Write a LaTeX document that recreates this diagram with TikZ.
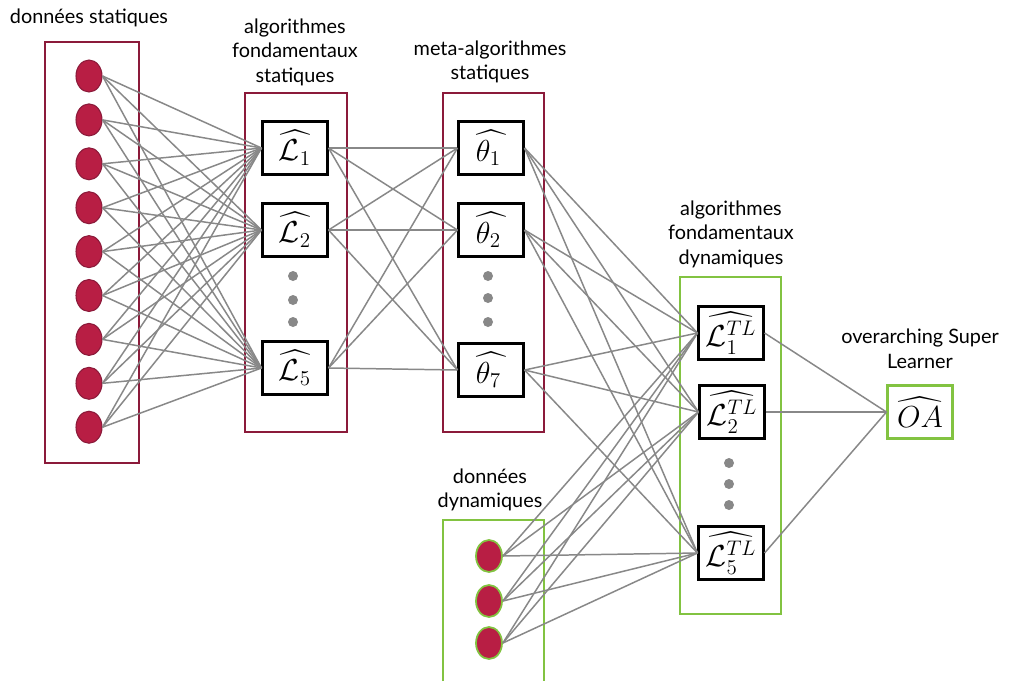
\documentclass[tikz,border=0pt]{standalone}
\usepackage{fontspec}
\setmainfont{Lato}
\usepackage{amsmath,amssymb}
\usetikzlibrary{positioning, shapes.geometric}
\definecolor{crimson}{RGB}{139,26,58}
\definecolor{berry}{RGB}{184,30,68}
\definecolor{leaf}{RGB}{130,195,65}
\definecolor{linegray}{RGB}{136,136,136}

\begin{document}
\begin{tikzpicture}[x=0.02cm, y=-0.02cm]
    \tikzstyle{every node}=[font=\fontsize{11.3}{14}\selectfont]
    \tikzstyle{unit}=[draw, line width=1.2pt, fill=white, minimum width=1.3cm, minimum height=1.06cm, inner sep=0pt, font=\fontsize{17}{20}\selectfont]
    \tikzstyle{datum}=[ellipse, draw=crimson, fill=berry, line width=0.6pt, minimum width=0.52cm, minimum height=0.64cm, inner sep=0pt]
    \tikzstyle{redframe}=[draw=crimson, line width=1.2pt]
    \tikzstyle{greenframe}=[draw=leaf, line width=1.2pt]
    \tikzstyle{wire}=[draw=linegray, line width=0.85pt]
    \tikzstyle{gap}=[circle, fill=linegray, inner sep=0pt, minimum size=0.2cm]
    \useasboundingbox (0,0) rectangle (1014,681);

    % frames
    \draw[redframe] (45,42) rectangle (139,463);
    \draw[redframe] (245,93) rectangle (347,432);
    \draw[redframe] (443,93) rectangle (544,432);
    \draw[greenframe] (680,277) rectangle (781,614);
    \draw[greenframe] (443,681) -- (443,520) -- (544,520) -- (544,681);

    % titles
    \node (title stat)  at (89,18)  {données statiques};
    \node (title L)     at (295,52) [align=center] {algorithmes\\fondamentaux\\statiques};
    \node (title th)    at (490,62) [align=center] {meta-algorithmes\\statiques};
    \node (title TL)    at (731,234) [align=center] {algorithmes\\fondamentaux\\dynamiques};
    \node (title OA)    at (920,349) [align=center] {overarching Super\\Learner};
    \node (title dyn)   at (490,490) [align=center] {données\\dynamiques};

    % static data
    \foreach \i in {1,...,9}
        \node (stat \i) [datum] at (89,{76+43.9*(\i-1)}) {};

    % dynamic data
    \node (dyn 1) [datum, draw=leaf, line width=1pt] at (489,556) {};
    \node (dyn 2) [datum, draw=leaf, line width=1pt] at (489,601) {};
    \node (dyn 3) [datum, draw=leaf, line width=1pt] at (489,643) {};

    % learners
    \node (L 1)  [unit] at (295,148) {$\widehat{\mathcal{L}_1}$};
    \node (L 2)  [unit] at (295,230) {$\widehat{\mathcal{L}_2}$};
    \node (L 5)  [unit] at (295,368) {$\widehat{\mathcal{L}_5}$};
    \node (th 1) [unit] at (491,148) {$\widehat{\theta_1\,}$};
    \node (th 2) [unit] at (491,230) {$\widehat{\theta_2\,}$};
    \node (th 7) [unit] at (491,370) {$\widehat{\theta_7\,}$};
    \node (TL 1) [unit] at (731,333) {$\widehat{\mathcal{L}_1^{TL}}$};
    \node (TL 2) [unit] at (732,412) {$\widehat{\mathcal{L}_2^{TL}}$};
    \node (TL 5) [unit] at (731,553) {$\widehat{\mathcal{L}_5^{TL}}$};
    \node (OA)   [unit, draw=leaf] at (920,412) {$\widehat{OA}$};

    % dots
    \node (gap L a)  [gap] at (293,276) {};
    \node (gap L b)  [gap] at (293,300) {};
    \node (gap L c)  [gap] at (293,322) {};
    \node (gap th a) [gap] at (488,276) {};
    \node (gap th b) [gap] at (488,298) {};
    \node (gap th c) [gap] at (488,322) {};
    \node (gap TL a) [gap] at (729,463) {};
    \node (gap TL b) [gap] at (729,484) {};
    \node (gap TL c) [gap] at (729,505) {};

    % connections
    \foreach \i in {1,...,9}
        \foreach \j in {1,2,5}
            \draw[wire] (stat \i.east) -- (L \j.west);
    \foreach \i in {1,2,5}
        \foreach \j in {1,2,7}
            \draw[wire] (L \i.east) -- (th \j.west);
    \foreach \i in {1,2,7}
        \foreach \j in {1,2,5}
            \draw[wire] (th \i.east) -- (TL \j.west);
    \foreach \i in {1,2,3}
        \foreach \j in {1,2,5}
            \draw[wire] (dyn \i.east) -- (TL \j.west);
    \foreach \j in {1,2,5}
        \draw[wire] (TL \j.east) -- (OA.west);
\end{tikzpicture}
\end{document}
